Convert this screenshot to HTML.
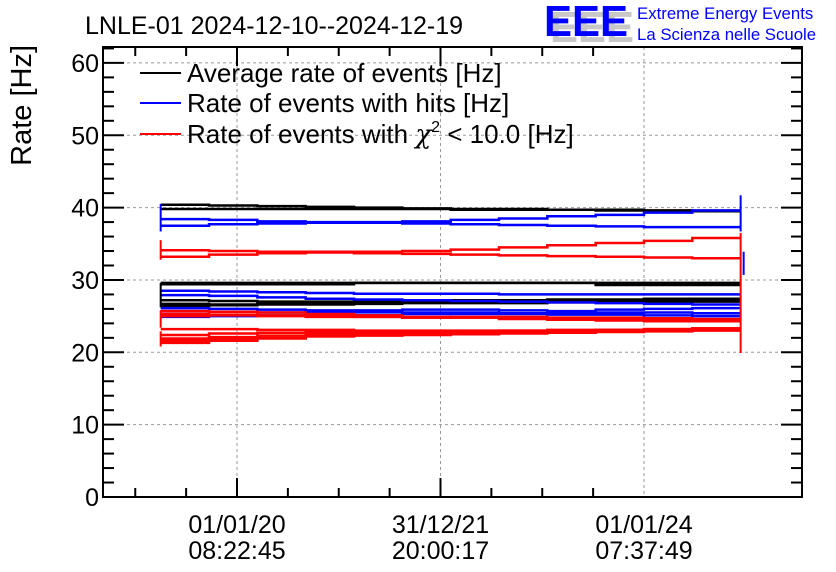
<!DOCTYPE html>
<html><head><meta charset="utf-8"><style>
body{margin:0;background:#fff}
svg{display:block;font-family:"Liberation Sans",sans-serif}
</style></head><body>
<svg id="c" width="836" height="572" viewBox="0 0 836 572">
<rect width="836" height="572" fill="#fff"/>
<text x="85" y="34" font-size="25">LNLE-01 2024-12-10--2024-12-19</text>
<g>
<text x="550" y="42" font-size="44" font-weight="bold" fill="#c8c8c8" textLength="84" lengthAdjust="spacingAndGlyphs">EEE</text>
<text x="544" y="36" font-size="44" font-weight="bold" fill="#0000ff" textLength="84" lengthAdjust="spacingAndGlyphs">EEE</text>
<text x="637" y="19" font-size="16.8" fill="#0000ff">Extreme Energy Events</text>
<text x="637" y="40" font-size="16.8" fill="#0000ff">La Scienza nelle Scuole</text>
</g>
<text transform="translate(31,45) rotate(-90)" text-anchor="end" font-size="29">Rate [Hz]</text>
<g id="grid"></g><g id="data"></g><g id="axes"></g>
<g>
<line x1="140" y1="73" x2="181" y2="73" stroke="#000" stroke-width="2"/>
<text x="187" y="82" font-size="26">Average rate of events [Hz]</text>
<line x1="140" y1="103" x2="181" y2="103" stroke="#0000ff" stroke-width="2"/>
<text x="187" y="112" font-size="26">Rate of events with hits [Hz]</text>
<line x1="140" y1="134" x2="181" y2="134" stroke="#ff0000" stroke-width="2"/>
<text x="187" y="143" font-size="26">Rate of events with <tspan font-family="DejaVu Serif, serif" font-style="italic">χ</tspan><tspan font-size="16" dy="-11">2</tspan><tspan dy="11"> &lt; 10.0 [Hz]</tspan></text>
</g>
</svg>
<script>
const yTicks=[0,10,20,30,40,50,60];
const xTickTimes=[2020.0,2022.0,2024.0];
const xTickDates=["01/01/20","31/12/21","01/01/24"];
const xTickClock=["08:22:45","20:00:17","07:37:49"];
const tStart=2019.25, tEnd=2024.95;
const black=[
[40.4,40.3,40.2,40.1,40.0,39.9,39.8,39.8,39.7,39.7,39.6,39.5],
[39.8,39.8,39.8,39.8,39.8,39.8,39.7,39.7,39.7,39.6,39.6,39.6],
[29.6,29.6,29.6,29.6,29.6,29.6,29.6,29.6,29.6,29.6,29.6,29.6],
[29.4,29.4,29.4,29.4,29.6,29.6,29.6,29.6,29.6,29.3,29.3,29.3],
[27.2,27.1,27.0,27.0,27.1,27.1,27.2,27.2,27.3,27.3,27.4,27.4],
[26.7,26.6,26.7,26.8,26.8,26.9,26.9,27.0,27.0,27.1,27.1,27.2],
[26.4,26.5,26.6,26.6,26.7,26.8,26.8,26.8,26.9,26.9,27.0,27.0]];
const blue=[
[38.4,38.3,38.1,38.0,38.0,38.1,38.3,38.5,38.8,39.0,39.3,39.6],
[37.5,37.7,37.8,37.9,37.9,37.8,37.7,37.6,37.5,37.4,37.3,37.3],
[28.5,28.4,28.3,28.2,28.1,28.1,28.1,28.0,28.0,28.0,28.0,28.0],
[27.9,27.8,27.6,27.4,27.3,27.2,27.1,27.0,26.9,26.8,26.7,26.6],
[26.1,26.0,25.9,25.8,25.8,25.9,25.9,25.8,25.7,25.9,26.0,26.1],
[25.7,25.6,25.5,25.6,25.6,25.5,25.5,25.4,25.4,25.5,25.5,25.4],
[24.9,25.0,25.1,25.2,25.2,25.3,25.3,25.3,25.2,25.2,25.1,25.0]];
const red=[
[34.1,34.0,33.9,33.9,33.9,34.0,34.2,34.5,34.8,35.1,35.4,35.8],
[33.2,33.5,33.7,33.8,33.7,33.6,33.5,33.4,33.3,33.2,33.1,33.0],
[25.7,25.6,25.5,25.3,25.1,24.9,24.8,24.6,24.5,24.4,24.3,24.3],
[25.3,25.2,25.1,25.0,24.9,24.8,24.8,24.7,24.7,24.6,24.5,24.5],
[25.0,25.1,25.0,24.9,24.9,24.8,24.9,24.9,24.8,24.8,24.7,24.6],
[23.2,23.2,23.1,23.1,23.0,23.0,23.0,23.0,23.1,23.1,23.2,23.3],
[22.4,22.6,22.7,22.8,22.8,22.9,22.9,23.0,23.0,23.1,23.2,23.3],
[21.9,22.1,22.3,22.5,22.6,22.7,22.8,22.9,22.9,23.0,23.1,23.2],
[21.3,21.6,21.9,22.2,22.4,22.6,22.7,22.8,22.9,22.9,23.0,23.1],
[21.6,21.8,22.0,22.2,22.3,22.4,22.5,22.6,22.7,22.8,22.9,23.0]];
const startBarsLo=[36.7,32.8,26.2,23.4,20.8];
const startBarsHi=[40.5,35.5,29.6,25.8,22.9];
const startBarsColor=["#0000ff","#ff0000","#000","#ff0000","#ff0000"];
const endBarsLo=[36.7,19.9,30.7];
const endBarsHi=[41.7,36.5,33.9];
const endBarsColor=["#0000ff","#ff0000","#0000ff"];

const L=103,R=802,T=47,B=497;
const tMin=2018.683,tMax=2025.553,yMax=62.2;
const X=t=>L+(t-tMin)/(tMax-tMin)*(R-L);
const Y=v=>B-v/yMax*(B-T);
const NS="http://www.w3.org/2000/svg";
function mk(p,tag,a){const e=document.createElementNS(NS,tag);for(const k in a)e.setAttribute(k,a[k]);p.appendChild(e);return e;}
const grid=document.getElementById('grid'),data=document.getElementById('data'),axes=document.getElementById('axes');
yTicks.forEach(v=>{if(v>0){const g=mk(grid,'line',{x1:L,x2:R,y1:Y(v),y2:Y(v),stroke:'#999','stroke-dasharray':'3,3'});

}
const t=mk(axes,'text',{x:99,y:Y(v)+9,'text-anchor':'end','font-size':25});t.textContent=v;

});
for(let v=0;v<=yMax;v+=2){const big=v%10===0;mk(axes,'line',{x1:L,x2:L+(big?21:11),y1:Y(v),y2:Y(v),stroke:'#000','stroke-width':2});mk(axes,'line',{x1:R,x2:R-(big?21:11),y1:Y(v),y2:Y(v),stroke:'#000','stroke-width':2});}
xTickTimes.forEach((t,i)=>{const x=X(t);const g=mk(grid,'line',{x1:x,x2:x,y1:T,y2:B,stroke:'#999','stroke-dasharray':'3,3'});


const a=mk(axes,'text',{x:x,y:533,'text-anchor':'middle','font-size':25});a.textContent=xTickDates[i];


const b=mk(axes,'text',{x:x,y:559,'text-anchor':'middle','font-size':25});b.textContent=xTickClock[i];

});
for(let k=-3;k<=7;k++){const t=2020+k*0.5;const x=X(t);if(x<L||x>R)continue;const big=k%4===0;
mk(axes,'line',{x1:x,x2:x,y1:B,y2:B-(big?19:9),stroke:'#000','stroke-width':2});mk(axes,'line',{x1:x,x2:x,y1:T,y2:T+(big?19:9),stroke:'#000','stroke-width':2});}
const fr=mk(axes,'rect',{x:L,y:T,width:R-L,height:B-T,fill:'none',stroke:'#000','stroke-width':2});


function drawSeries(arr,color,name){arr.forEach(vals=>{const n=vals.length;let d='';
vals.forEach((v,i)=>{const x0=X(tStart+(tEnd-tStart)*i/n),x1=X(tStart+(tEnd-tStart)*(i+1)/n);d+=(i?'L':'M')+x0+','+Y(v)+'L'+x1+','+Y(v);});
const p=mk(data,'path',{d:d,fill:'none',stroke:color,'stroke-width':2.5});

});}
drawSeries(black,'#000','average-rate-line');
drawSeries(blue,'#0000ff','hits-rate-line');
drawSeries(red,'#ff0000','chi2-rate-line');
startBarsLo.forEach((lo,i)=>{const l=mk(data,'line',{x1:X(tStart),x2:X(tStart),y1:Y(lo),y2:Y(startBarsHi[i]),stroke:startBarsColor[i],'stroke-width':2});

});
endBarsLo.forEach((lo,i)=>{const x=X(tEnd)+(i===2?3:0);const l=mk(data,'line',{x1:x,x2:x,y1:Y(lo),y2:Y(endBarsHi[i]),stroke:endBarsColor[i],'stroke-width':2});

});
</script>
</body></html>
